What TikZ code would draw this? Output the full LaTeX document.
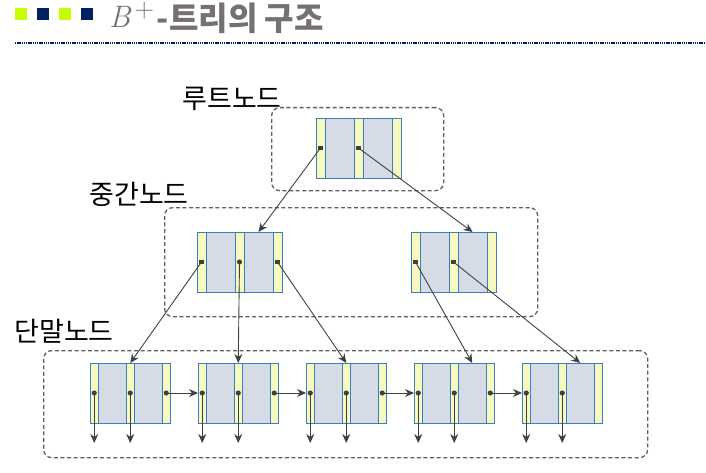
\documentclass[tikz,border=0pt]{standalone}
\usepackage{fontspec}
\newfontfamily\kr{Noto Sans CJK KR}
\usetikzlibrary{arrows.meta,positioning}
\definecolor{lime}{RGB}{200,255,0}
\definecolor{navy}{RGB}{0,32,96}
\definecolor{titlegray}{RGB}{118,113,113}
\definecolor{cellyellow}{RGB}{246,250,190}
\definecolor{cellgray}{RGB}{214,220,229}
\definecolor{celledge}{RGB}{60,125,190}
\definecolor{linegray}{RGB}{64,64,64}
\definecolor{boxgray}{RGB}{95,95,95}
\tikzset{
  pcell/.style={rectangle,draw=celledge,fill=cellyellow,line width=0.8pt,inner sep=0pt,outer sep=0pt,minimum height=60pt,minimum width=#1},
  kcell/.style={rectangle,draw=celledge,fill=cellgray,line width=0.8pt,inner sep=0pt,outer sep=0pt,minimum height=60pt,minimum width=#1},
  ptrdot/.style={circle,fill=linegray,inner sep=0pt,minimum size=5.2pt},
  ptrsq/.style={rectangle,fill=linegray,inner sep=0pt,minimum size=4.6pt},
  ptr/.style={-{Stealth[length=9pt,width=8pt]},draw=linegray,line width=0.9pt},
  levelbox/.style={rectangle,draw=boxgray,dash pattern=on 4pt off 2.6pt,line width=1.3pt,rounded corners=8pt,inner sep=0pt,anchor=north west},
  levellabel/.style={font=\kr\fontsize{27}{32}\selectfont,text=black},
  titlesq/.style={rectangle,inner sep=0pt,minimum size=12pt,anchor=north west}
}
% one B+ tree record: pointer / key / pointer / key / pointer
\newcommand{\bprec}[5]{%
  \node[pcell=#4,anchor=north west] (#1-p1) at (#2,#3) {};
  \node[kcell=#5,right=0pt of #1-p1] (#1-k1) {};
  \node[pcell=#4,right=0pt of #1-k1] (#1-p2) {};
  \node[kcell=#5,right=0pt of #1-p2] (#1-k2) {};
  \node[pcell=#4,right=0pt of #1-k2] (#1-p3) {};
}

\begin{document}
\begin{tikzpicture}[x=1pt,y=-1pt]
  \useasboundingbox (0,0) rectangle (706,473);

  % title
  \foreach \x/\c in {15/lime,37/navy,59/lime,81/navy}{
    \node[titlesq,fill=\c] (sq\x) at (\x,8) {};
  }
  \node[anchor=base west,text=titlegray,inner sep=0pt,font=\fontsize{31}{34}\selectfont]
    (title) at (109,28)
    {\textit{B}\kern3pt\raisebox{0.34em}{\fontsize{27}{30}\selectfont +}\kern3pt\raisebox{-2.5pt}{\kr\bfseries\fontsize{32}{34}\selectfont\scalebox{1}[1.02]{-트리의 구조}}};
  \coordinate (rulel) at (15,43);
  \coordinate (ruler) at (706,43);
  \draw[navy,line width=1.5pt,dash pattern=on 1.3pt off 0.9pt] (rulel) -- (ruler);

  % levels
  \node[levelbox,minimum width=172pt,minimum height=83pt] (rootlvl) at (271,107) {};
  \node[levelbox,minimum width=373pt,minimum height=109pt] (midlvl) at (164,207) {};
  \node[levelbox,minimum width=604pt,minimum height=107pt] (leaflvl) at (43,350) {};

  \node[levellabel] (rootlab) at (232,99) {루트노드};
  \node[levellabel] (midlab) at (139,194) {중간노드};
  \node[levellabel] (leaflab) at (64,331) {단말노드};

  % records
  \bprec{r}{316}{118}{9pt}{29pt}
  \bprec{m1}{197}{232}{9pt}{29pt}
  \bprec{m2}{411}{232}{9pt}{29pt}
  \foreach \i/\x in {1/90,2/198,3/306,4/414,5/522}{
    \bprec{l\i}{\x}{363}{8.5pt}{27.5pt}
  }

  % pointers
  \node[ptrsq] (r-d1) at (r-p1.center) {};
  \node[ptrsq] (r-d2) at (r-p2.center) {};
  \node[ptrsq] (m1-d1) at (m1-p1.center) {};
  \node[ptrdot] (m1-d2) at (m1-p2.center) {};
  \node[ptrsq] (m1-d3) at (m1-p3.center) {};
  \node[ptrsq] (m2-d1) at (m2-p1.center) {};
  \node[ptrsq] (m2-d2) at (m2-p2.center) {};

  \draw[ptr] (r-p1.center) -- (m1-k2.north);
  \draw[ptr] (r-p2.center) -- (m2-k2.north);
  \draw[ptr] (m1-p1.center) -- (l1-p2.north);
  \draw[ptr] (m1-p2.center) -- (l2-p2.north);
  \draw[ptr] (m1-p3.center) -- (l3-p2.north);
  \draw[ptr] (m2-p1.center) -- (l4-k2.north);
  \draw[ptr] (m2-p2.center) -- (l5-k2.north);

  \coordinate (bot) at (0,443);
  \foreach \i in {1,...,5}{
    \node[ptrdot] (l\i-d1) at (l\i-p1.center) {};
    \node[ptrdot] (l\i-d2) at (l\i-p2.center) {};
    \draw[ptr] (l\i-p1.center) -- (l\i-p1.center |- bot);
    \draw[ptr] (l\i-p2.center) -- (l\i-p2.center |- bot);
  }
  \foreach \i/\j in {1/2,2/3,3/4,4/5}{
    \node[ptrdot] (l\i-d3) at (l\i-p3.center) {};
    \draw[ptr] (l\i-p3.center) -- (l\j-p1.west);
  }
\end{tikzpicture}
\end{document}
